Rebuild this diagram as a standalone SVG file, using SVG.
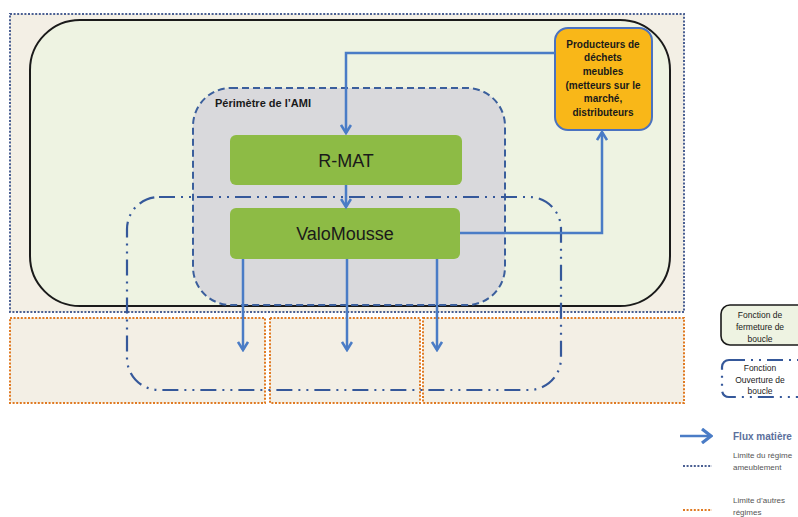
<svg xmlns="http://www.w3.org/2000/svg" width="798" height="517" viewBox="0 0 798 517">
<style>
.t{font-family:"Liberation Sans",Arial,sans-serif;fill:#1a1a1a}
.flow{fill:none;stroke:#4a7cc6;stroke-width:2.5}
.dd{fill:none;stroke:#35589a;stroke-width:2.2;stroke-dasharray:16 6 2 6 2 6}
.bdot{stroke:#4a5f92;stroke-width:2;stroke-dasharray:2 1.6}
.odot{stroke:#e07a22;stroke-width:2;stroke-dasharray:2 1.6}
.beige{fill:#f3efe5}
.green{fill:#8dbb45}
</style>
<defs>
<marker id="ah" markerWidth="12" markerHeight="12" viewBox="0 0 12 12" refX="10" refY="6" orient="auto" markerUnits="userSpaceOnUse">
<polyline points="2,1 10,6 2,11" fill="none" stroke="#4a7cc6" stroke-width="2.6"/>
</marker>
<marker id="ahb" markerWidth="16" markerHeight="16" viewBox="0 0 16 16" refX="14" refY="8" orient="auto" markerUnits="userSpaceOnUse">
<polyline points="5,1 14,8 5,15" fill="none" stroke="#4a7cc6" stroke-width="3.2"/>
</marker>
</defs>
<rect width="798" height="517" fill="#ffffff"/>
<g id="regime-ameublement">
<rect x="10" y="14" width="674" height="298" class="bdot beige"/>
</g>
<g id="autres-regimes">
<rect x="10" y="318" width="255" height="85" class="odot beige"/>
<rect x="270" y="318" width="150" height="85" class="odot beige"/>
<rect x="423" y="318" width="261" height="85" class="odot beige"/>
</g>
<g id="fermeture-boucle">
<rect x="30" y="20" width="640" height="286" rx="50" ry="50" fill="#eef3e2" stroke="#1a1a1a" stroke-width="2"/>
</g>
<g id="perimetre-ami">
<rect x="193" y="88" width="312" height="217" rx="38" ry="38" fill="#d9d9dc" stroke="#3b5f9c" stroke-width="2" stroke-dasharray="7 4"/>
<text class="t" x="215" y="107" font-size="11" font-weight="bold">Périmètre de l’AMI</text>
</g>
<g id="ouverture-boucle">
<rect x="127" y="197" width="434" height="193" rx="32" ry="32" class="dd"/>
</g>
<g id="r-mat">
<rect x="230" y="135" width="232" height="50" rx="6" class="green"/>
<text class="t" x="346" y="167" font-size="18" text-anchor="middle">R-MAT</text>
</g>
<g id="valomousse">
<rect x="230" y="208" width="230" height="51" rx="6" class="green"/>
<text class="t" x="345" y="240" font-size="18" text-anchor="middle">ValoMousse</text>
</g>
<g id="producteurs">
<rect x="555" y="28" width="97" height="102" rx="13" ry="13" fill="#f9b718" stroke="#4a72c0" stroke-width="2"/>
<g class="t" font-size="10" font-weight="bold" text-anchor="middle">
<text x="603" y="48">Producteurs de</text>
<text x="603" y="61">déchets</text>
<text x="603" y="75">meubles</text>
<text x="603" y="89">(metteurs sur le</text>
<text x="603" y="102">marché,</text>
<text x="603" y="116">distributeurs</text>
</g>
</g>
<g id="connectors">
<polyline class="flow" points="555,53 346,53 346,133" marker-end="url(#ah)"/>
<line class="flow" x1="346" y1="185" x2="346" y2="207" marker-end="url(#ah)"/>
<polyline class="flow" points="460,233 602,233 602,132" marker-end="url(#ah)"/>
<line class="flow" x1="243" y1="259" x2="243" y2="350" marker-end="url(#ah)"/>
<line class="flow" x1="347" y1="259" x2="347" y2="350" marker-end="url(#ah)"/>
<line class="flow" x1="437" y1="259" x2="437" y2="350" marker-end="url(#ah)"/>
</g>
<g id="legend">
<rect x="721" y="305" width="90" height="40" rx="9" fill="#eef3e2" stroke="#1a1a1a" stroke-width="1.6"/>
<g class="t" font-size="8.5" text-anchor="middle">
<text x="760" y="318">Fonction de</text>
<text x="760" y="330">fermeture de</text>
<text x="760" y="342">boucle</text>
</g>
<rect x="722" y="360" width="90" height="37" rx="7" class="dd" stroke-width="1.8"/>
<g class="t" font-size="8.5" text-anchor="middle">
<text x="760" y="371">Fonction</text>
<text x="760" y="383">Ouverture de</text>
<text x="760" y="394">boucle</text>
</g>
<line class="flow" x1="680" y1="436" x2="711" y2="436" stroke-width="3" marker-end="url(#ahb)"/>
<text class="t" x="733" y="440" font-size="10" font-weight="bold" style="fill:#5b6f9c">Flux matière</text>
<line class="bdot" x1="683" y1="466" x2="712" y2="466" fill="none"/>
<g class="t" font-size="8" style="fill:#555">
<text x="733" y="458">Limite du régime</text>
<text x="733" y="470">ameublement</text>
</g>
<line class="odot" x1="683" y1="510" x2="712" y2="510" fill="none"/>
<g class="t" font-size="8" style="fill:#555">
<text x="733" y="503">Limite d’autres</text>
<text x="733" y="515">régimes</text>
</g>
</g>
</svg>
